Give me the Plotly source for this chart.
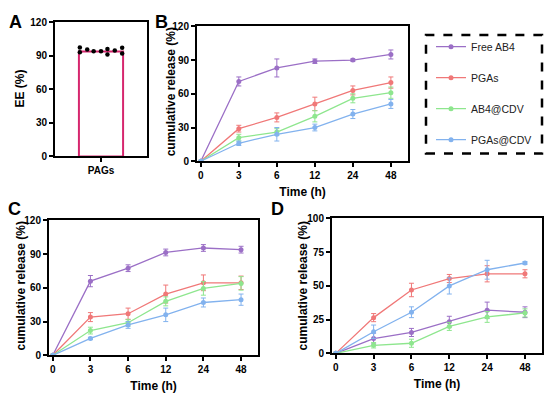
import plotly.graph_objects as go

# ---- data ----
time_labels = ["0", "3", "6", "12", "24", "48"]
series_names = ["Free AB4", "PGAs", "AB4@CDV", "PGAs@CDV"]
series_colors = ["#9B6FC6", "#F07878", "#8EE68E", "#82B2EE"]

# panel A: encapsulation efficiency
ee_category = "PAGs"
ee_mean = 94
ee_dot_offsets = [-0.23, -0.23, -0.15, -0.08, 0.0, 0.07, 0.07, 0.15, 0.23, 0.23]
ee_dots = [97.6, 93.3, 95.7, 94.2, 94.2, 96.3, 91.3, 94.8, 97.4, 92.2]

# panel B
b_free = [0, 71, 83, 89, 90, 95]
b_free_sd = [0, 4, 8, 2, 1, 4]
b_pgas = [0, 29, 39, 51, 63, 70]
b_pgas_sd = [0, 3, 4, 6, 4, 5]
b_ab4cdv = [0, 21, 26, 40, 56, 61]
b_ab4cdv_sd = [0, 3, 3, 5, 4, 5]
b_pgascdv = [0, 16, 24, 30, 42, 51]
b_pgascdv_sd = [0, 2, 6, 3, 4, 4]

# panel C
c_free = [0, 66, 77.5, 91.5, 95.5, 94]
c_free_sd = [0, 5, 3, 3, 3, 3]
c_pgas = [0, 34, 37, 54.5, 64.5, 64.5]
c_pgas_sd = [0, 4, 5, 8, 7, 6]
c_ab4cdv = [0, 22, 29, 48, 59.5, 64]
c_ab4cdv_sd = [0, 3, 3, 4, 6, 6]
c_pgascdv = [0, 15, 27, 36, 47, 49.5]
c_pgascdv_sd = [0, 1, 3, 6, 4, 5]

# panel D
d_free = [0, 11, 15.5, 23.5, 32, 30.5]
d_free_sd = [0, 4, 3, 4, 6, 4]
d_pgas = [0, 26.5, 47, 55.5, 59, 59]
d_pgas_sd = [0, 3, 5, 3, 6, 3]
d_ab4cdv = [0, 6, 7.5, 20, 27, 30]
d_ab4cdv_sd = [0, 2, 3, 3, 4, 3]
d_pgascdv = [0, 16, 30.5, 50, 62, 67]
d_pgascdv_sd = [0, 5, 4, 6, 7, 1]

FONT = "Liberation Sans, Arial, sans-serif"
W, H = 550, 404


def dom_x(a, b):
    return [a / W, b / W]


def dom_y(top, bottom):
    return [1 - bottom / H, 1 - top / H]


fig = go.Figure()

# ---- panel A ----
fig.add_trace(go.Bar(
    x=[0], y=[ee_mean], width=0.48,
    marker=dict(color="white", line=dict(color="#D6266E", width=2)),
    xaxis="x", yaxis="y", showlegend=False,
))
fig.add_trace(go.Scatter(
    x=ee_dot_offsets, y=ee_dots, mode="markers",
    marker=dict(color="black", size=4.5),
    xaxis="x", yaxis="y", showlegend=False,
))

# ---- panels B, C, D ----
panels = [
    ("x2", "y2", [b_free, b_pgas, b_ab4cdv, b_pgascdv],
     [b_free_sd, b_pgas_sd, b_ab4cdv_sd, b_pgascdv_sd], True),
    ("x3", "y3", [c_free, c_pgas, c_ab4cdv, c_pgascdv],
     [c_free_sd, c_pgas_sd, c_ab4cdv_sd, c_pgascdv_sd], False),
    ("x4", "y4", [d_free, d_pgas, d_ab4cdv, d_pgascdv],
     [d_free_sd, d_pgas_sd, d_ab4cdv_sd, d_pgascdv_sd], False),
]
xs = list(range(len(time_labels)))
for xa, ya, means, sds, show in panels:
    for name, color, m, sd in zip(series_names, series_colors, means, sds):
        fig.add_trace(go.Scatter(
            x=xs, y=m, mode="lines+markers", name=name,
            line=dict(color=color, width=1.3),
            marker=dict(color=color, size=5),
            error_y=dict(type="data", array=sd, color=color, thickness=1, width=2.5),
            xaxis=xa, yaxis=ya, showlegend=show, legendgroup=name,
        ))

axis_common = dict(
    showline=True, linecolor="black", linewidth=2, mirror=True,
    ticks="outside", ticklen=4, tickwidth=1.5, tickcolor="black",
    showgrid=False, zeroline=False,
    tickfont=dict(family=FONT, size=10, color="black", weight="bold"),
)
title_font = dict(family=FONT, size=12, color="black", weight="bold")

time_axis = dict(axis_common, tickvals=xs, ticktext=time_labels, range=[-0.1, 5.45],
                 title=dict(text="Time (h)", font=title_font, standoff=7))

fig.update_layout(
    width=W, height=H,
    margin=dict(l=0, r=0, t=0, b=0),
    paper_bgcolor="white", plot_bgcolor="white",
    barmode="overlay",
    xaxis=dict(axis_common, domain=dom_x(55, 147), range=[-0.5, 0.5],
               tickvals=[0], ticktext=[ee_category], anchor="y"),
    yaxis=dict(axis_common, domain=dom_y(17, 155), range=[0, 120], tickvals=[0, 30, 60, 90, 120],
               anchor="x"),
    xaxis2=dict(time_axis, domain=dom_x(197, 408), anchor="y2"),
    yaxis2=dict(axis_common, domain=dom_y(21, 160), range=[0, 120], tickvals=[0, 30, 60, 90, 120],
                anchor="x2"),
    xaxis3=dict(time_axis, domain=dom_x(49, 258), anchor="y3"),
    yaxis3=dict(axis_common, domain=dom_y(221, 360), range=[0, 120], tickvals=[0, 30, 60, 90, 120],
                anchor="x3"),
    xaxis4=dict(time_axis, domain=dom_x(332, 542), anchor="y4"),
    yaxis4=dict(axis_common, domain=dom_y(219, 358), range=[0, 100], tickvals=[0, 25, 50, 75, 100],
                anchor="x4"),
    legend=dict(
        x=431 / W, y=1 - 27 / H, xanchor="left", yanchor="top",
        font=dict(family=FONT, size=10.5, color="#222"),
        itemwidth=30, tracegroupgap=12, bgcolor="rgba(0,0,0,0)",
    ),
    showlegend=True,
)

# dashed legend frame
fig.add_shape(type="rect", xref="paper", yref="paper",
              x0=426 / W, x1=542 / W, y0=1 - 152 / H, y1=1 - 30 / H,
              line=dict(color="black", width=2.5, dash="dash"))

# y-axis titles placed where the original has them
for text, px, py in [("EE (%)", 20, 85), ("cumulative release (%)", 171, 89),
                     ("cumulative release (%)", 21, 289), ("cumulative release (%)", 303, 289)]:
    fig.add_annotation(text=text, x=px / W, y=1 - py / H, xref="paper", yref="paper",
                       showarrow=False, textangle=-90, xanchor="center", yanchor="middle",
                       font=title_font)

# panel letters
for letter, px, py in [("A", 15, 16), ("B", 161, 16), ("C", 14, 209), ("D", 277, 209)]:
    fig.add_annotation(text=letter, x=px / W, y=1 - py / H, xref="paper", yref="paper",
                       showarrow=False, xanchor="center", yanchor="middle",
                       font=dict(family=FONT, size=18, color="black", weight="bold"))

# the page body has a default 8px margin; drop it so the figure fills the window
fig.write_html("out.html", config={"displayModeBar": False},
               post_script="document.body.style.margin='0';")
